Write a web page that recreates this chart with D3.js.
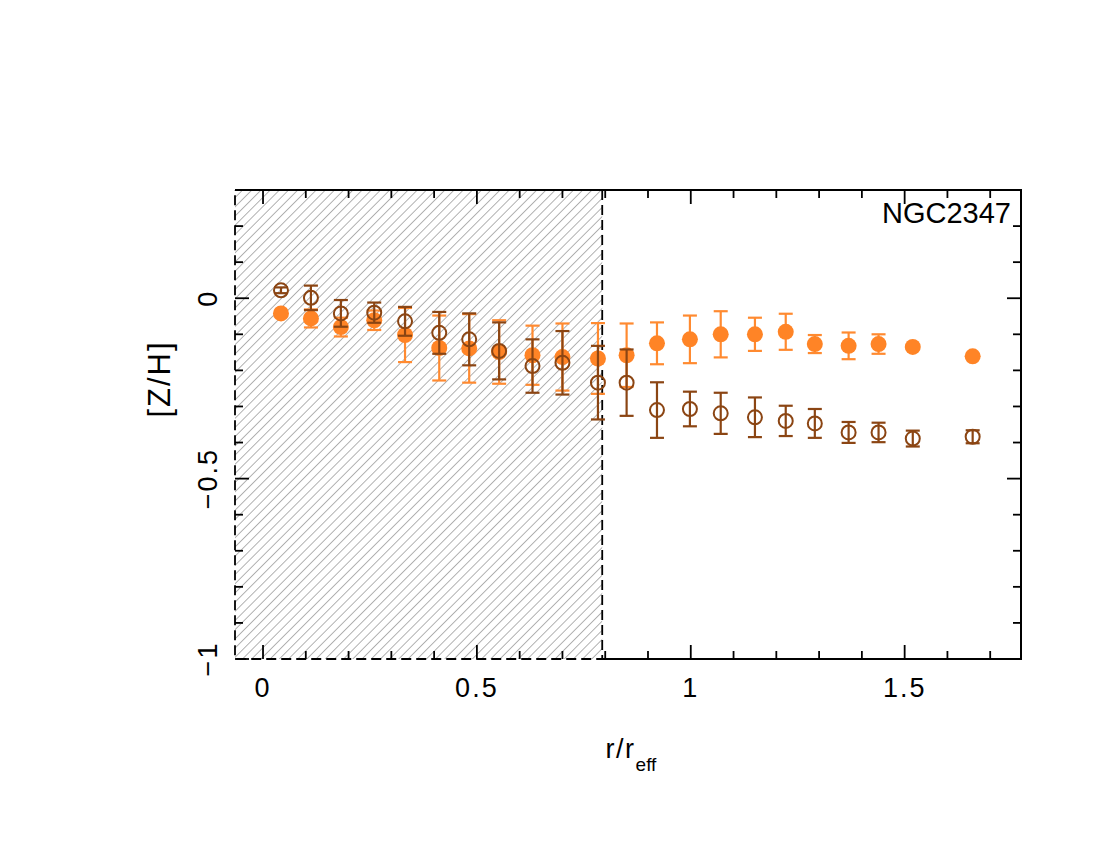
<!DOCTYPE html>
<html>
<head>
<meta charset="utf-8">
<script src="https://cdn.jsdelivr.net/npm/d3@7"></script>
<style>
  body { margin: 0; background: #fff; }
  text { font-family: "Liberation Sans", Arial, sans-serif; }
</style>
</head>
<body>
<div id="chart"></div>
<script>
var width = 1100;
var height = 850;

// radius in units of r_eff
var radius = [0.042, 0.112, 0.182, 0.260, 0.332, 0.412, 0.482, 0.552, 0.630, 0.700, 0.783,
              0.850, 0.921, 0.998, 1.070, 1.150, 1.222, 1.290, 1.369, 1.439, 1.519, 1.659];

// filled orange points
var zhFilled = [-0.042, -0.056, -0.080, -0.061, -0.102, -0.138, -0.139, -0.149, -0.158, -0.163, -0.167,
                -0.158, -0.125, -0.114, -0.100, -0.100, -0.093, -0.127, -0.132, -0.127, -0.135, -0.161];
var errFilled = [0.0, 0.025, 0.026, 0.027, 0.075, 0.090, 0.095, 0.088, 0.082, 0.093, 0.098,
                 0.088, 0.058, 0.066, 0.064, 0.046, 0.050, 0.025, 0.037, 0.027, 0.0, 0.0];

// open brown points
var zhOpen = [0.022, 0.001, -0.042, -0.040, -0.064, -0.096, -0.114, -0.146, -0.188, -0.179, -0.234,
              -0.234, -0.310, -0.307, -0.319, -0.330, -0.340, -0.347, -0.372, -0.372, -0.389, -0.384];
var errOpen = [0.008, 0.034, 0.037, 0.028, 0.040, 0.058, 0.072, 0.079, 0.074, 0.088, 0.102,
               0.092, 0.077, 0.048, 0.057, 0.055, 0.042, 0.040, 0.029, 0.027, 0.022, 0.018];

var hatchLimit = 0.793;
var xTicks = [0, 0.5, 1, 1.5];
var yTicks = [0, -0.5, -1];
var galaxy = "NGC2347";

var plotL = 235, plotR = 1021, plotT = 190, plotB = 659;

var xScale = d3.scaleLinear().domain([-0.0655, 1.772]).range([plotL, plotR]);
var yScale = d3.scaleLinear().domain([-1, 0.3]).range([plotB, plotT]);

var svg = d3.select("#chart").append("svg")
    .attr("width", width)
    .attr("height", height);

// hatch pattern
var defs = svg.append("defs");
var pat = defs.append("pattern")
    .attr("id", "hatch")
    .attr("patternUnits", "userSpaceOnUse")
    .attr("width", 6.5)
    .attr("height", 6.5)
    .attr("patternTransform", "rotate(45)");
pat.append("line")
    .attr("x1", 0).attr("y1", 0)
    .attr("x2", 0).attr("y2", 6.5)
    .attr("stroke", "#a0a0a0")
    .attr("stroke-width", 1.6);

var hx = xScale(hatchLimit);

svg.append("rect")
    .attr("x", plotL)
    .attr("y", plotT)
    .attr("width", hx - plotL)
    .attr("height", plotB - plotT)
    .attr("fill", "url(#hatch)");

// frame (solid outside the hatched zone)
svg.append("path")
    .attr("d", "M" + plotL + "," + plotT + "H" + plotR + "V" + plotB + "H" + hx)
    .attr("fill", "none")
    .attr("stroke", "#000")
    .attr("stroke-width", 2);

// dashed border of the hatched zone
svg.append("path")
    .attr("d", "M" + hx + "," + plotT + "V" + plotB + "H" + plotL + "V" + plotT)
    .attr("fill", "none")
    .attr("stroke", "#000")
    .attr("stroke-width", 1.8)
    .attr("stroke-dasharray", "10,5");

// ticks
var xMinor = d3.range(0, 1.75, 0.1);
var yMinor = d3.range(-1, 0.31, 0.1);

function isMajor(v) {
    return Math.abs(v * 2 - Math.round(v * 2)) < 1e-6;
}

var tickG = svg.append("g").attr("stroke", "#000").attr("stroke-width", 1.8);
xMinor.forEach(function(v) {
    var len = isMajor(v) ? 14 : 8;
    var x = xScale(v);
    tickG.append("line").attr("x1", x).attr("x2", x).attr("y1", plotB).attr("y2", plotB - len);
    tickG.append("line").attr("x1", x).attr("x2", x).attr("y1", plotT).attr("y2", plotT + len);
});
yMinor.forEach(function(v) {
    var len = isMajor(v) ? 14 : 8;
    var y = yScale(v);
    tickG.append("line").attr("x1", plotL).attr("x2", plotL + len).attr("y1", y).attr("y2", y);
    tickG.append("line").attr("x1", plotR).attr("x2", plotR - len).attr("y1", y).attr("y2", y);
});

// tick labels
svg.selectAll("text.xtick")
    .data(xTicks)
    .enter()
    .append("text")
    .attr("class", "xtick")
    .attr("x", function(d) { return xScale(d); })
    .attr("y", 697)
    .attr("text-anchor", "middle")
    .attr("font-size", 27)
    .attr("letter-spacing", 2)
    .text(function(d) { return d; });

svg.selectAll("text.ytick")
    .data(yTicks)
    .enter()
    .append("text")
    .attr("class", "ytick")
    .attr("transform", function(d) { return "translate(217," + yScale(d) + ") rotate(-90)"; })
    .attr("text-anchor", "middle")
    .attr("font-size", 27)
    .attr("letter-spacing", 2)
    .text(function(d) { return d === 0 ? "0" : "\u2212" + Math.abs(d); });

// axis titles
svg.append("text")
    .attr("transform", "translate(170,379) rotate(-90)")
    .attr("text-anchor", "middle")
    .attr("font-size", 31)
    .attr("letter-spacing", 2)
    .text("[Z/H]");

var xt = svg.append("text")
    .attr("x", 631)
    .attr("y", 758)
    .attr("text-anchor", "middle")
    .attr("font-size", 27)
    .attr("letter-spacing", 1.5);
xt.append("tspan").text("r/r");
xt.append("tspan").attr("dy", 13).attr("font-size", 19).attr("letter-spacing", 0).text("eff");

svg.append("text")
    .attr("x", 1011)
    .attr("y", 223)
    .attr("text-anchor", "end")
    .attr("font-size", 29)
    .text(galaxy);

// data
var orange = radius.map(function(r, k) { return { r: r, v: zhFilled[k], e: errFilled[k] }; });
var brown = radius.map(function(r, k) { return { r: r, v: zhOpen[k], e: errOpen[k] }; });

function drawErr(data, color) {
    var g = svg.append("g").attr("stroke", color).attr("stroke-width", 2.2);
    data.forEach(function(d) {
        if (d.e <= 0) return;
        var x = xScale(d.r);
        var y1 = yScale(d.v + d.e), y2 = yScale(d.v - d.e);
        g.append("line").attr("x1", x).attr("x2", x).attr("y1", y1).attr("y2", y2);
        g.append("line").attr("x1", x - 7).attr("x2", x + 7).attr("y1", y1).attr("y2", y1);
        g.append("line").attr("x1", x - 7).attr("x2", x + 7).attr("y1", y2).attr("y2", y2);
    });
}

drawErr(orange, "#ff8a30");
svg.selectAll("circle.filled")
    .data(orange)
    .enter()
    .append("circle")
    .attr("class", "filled")
    .attr("cx", function(d) { return xScale(d.r); })
    .attr("cy", function(d) { return yScale(d.v); })
    .attr("r", 8)
    .attr("fill", "#ff8426");

drawErr(brown, "#8b4513");
svg.selectAll("circle.open")
    .data(brown)
    .enter()
    .append("circle")
    .attr("class", "open")
    .attr("cx", function(d) { return xScale(d.r); })
    .attr("cy", function(d) { return yScale(d.v); })
    .attr("r", 7)
    .attr("fill", "none")
    .attr("stroke", "#8b4513")
    .attr("stroke-width", 2);
</script>
</body>
</html>
